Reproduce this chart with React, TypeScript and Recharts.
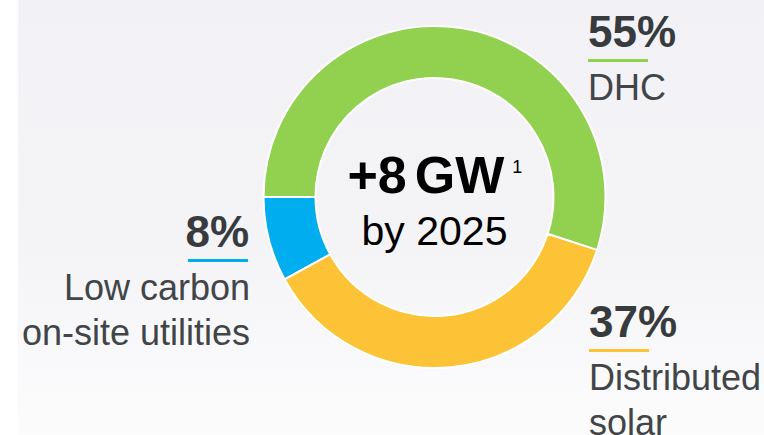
import { PieChart, Pie, Cell, Label } from 'recharts'

const names = ['Low carbon on-site utilities', 'Distributed solar', 'DHC']
const shares = [8, 37, 55]
const colors = ['#00adef', '#fbc335', '#92d050']
const nameLines = [['Low carbon', 'on-site utilities'], ['Distributed', 'solar'], ['DHC']]

const data = names.map((n, i) => ({ name: n, value: shares[i] }))

const FONT = '"Liberation Sans", Arial, Helvetica, sans-serif'
const INK = '#373b3e'
const INK_LIGHT = '#414548'

// where each callout sits: x anchor, baseline of the % figure, side
const callouts = [
  { x: 249, y: 247, anchor: 'end' },
  { x: 589, y: 337, anchor: 'start' },
  { x: 588, y: 47, anchor: 'start' },
]

function renderLabel(props: any) {
  const i = props.index as number
  const c = callouts[i]
  if (!c) return null
  const lineX = c.anchor === 'end' ? c.x - 61 : c.x
  return (
    <g key={`lbl-${i}`}>
      <text
        x={c.x}
        y={c.y}
        textAnchor={c.anchor}
        fontFamily={FONT}
        fontWeight={700}
        fontSize={44}
        fill={INK}
      >
        {shares[i]}%
      </text>
      <rect x={lineX} y={c.y + 12} width={60} height={3} fill={colors[i]} />
      {nameLines[i].map((t, k) => (
        <text
          key={k}
          x={c.x + (c.anchor === 'end' ? 1 : 0)}
          y={c.y + 53 + k * 45}
          textAnchor={c.anchor}
          fontFamily={FONT}
          fontSize={36}
          fill={INK_LIGHT}
        >
          {t}
        </text>
      ))}
    </g>
  )
}

function CenterText(props: any) {
  const vb = props.viewBox || {}
  const cx = vb.cx ?? 434.5
  const cy = vb.cy ?? 197
  return (
    <g>
      <text x={cx - 87} y={cy - 4} fontFamily={FONT} fontWeight={700} fontSize={52} fill="#000">
        +8<tspan dx={8}>GW</tspan>
        <tspan dx={8} dy={-20} fontSize={18} fontWeight={400}>1</tspan>
      </text>
      <text x={cx} y={cy + 48} textAnchor="middle" fontFamily={FONT} fontSize={41} fill="#000">
        by 2025
      </text>
    </g>
  )
}

export default function App() {
  return (
    <div
      style={{
        position: 'fixed',
        left: 0,
        top: 0,
        width: 764,
        height: 435,
        background: '#fff',
      }}
    >
      <div
        style={{
          position: 'absolute',
          left: 18,
          top: 0,
          width: 746,
          height: 435,
          background: 'linear-gradient(to bottom, #f2f2f6 0%, #f4f4f7 55%, #fcfcfd 100%)',
        }}
      />
      <div style={{ position: 'absolute', left: 0, top: 0 }}>
        <PieChart width={764} height={435} margin={{ top: 0, right: 0, bottom: 0, left: 0 }}>
          <Pie
            data={data}
            dataKey="value"
            nameKey="name"
            cx={434.5}
            cy={197}
            innerRadius={119}
            outerRadius={171}
            startAngle={180}
            endAngle={540}
            stroke="#ffffff"
            strokeWidth={2}
            label={renderLabel}
            labelLine={false}
            isAnimationActive={false}
          >
            {data.map((d, i) => (
              <Cell key={d.name} fill={colors[i]} />
            ))}
            <Label position="center" content={<CenterText />} />
          </Pie>
        </PieChart>
      </div>
    </div>
  )
}
